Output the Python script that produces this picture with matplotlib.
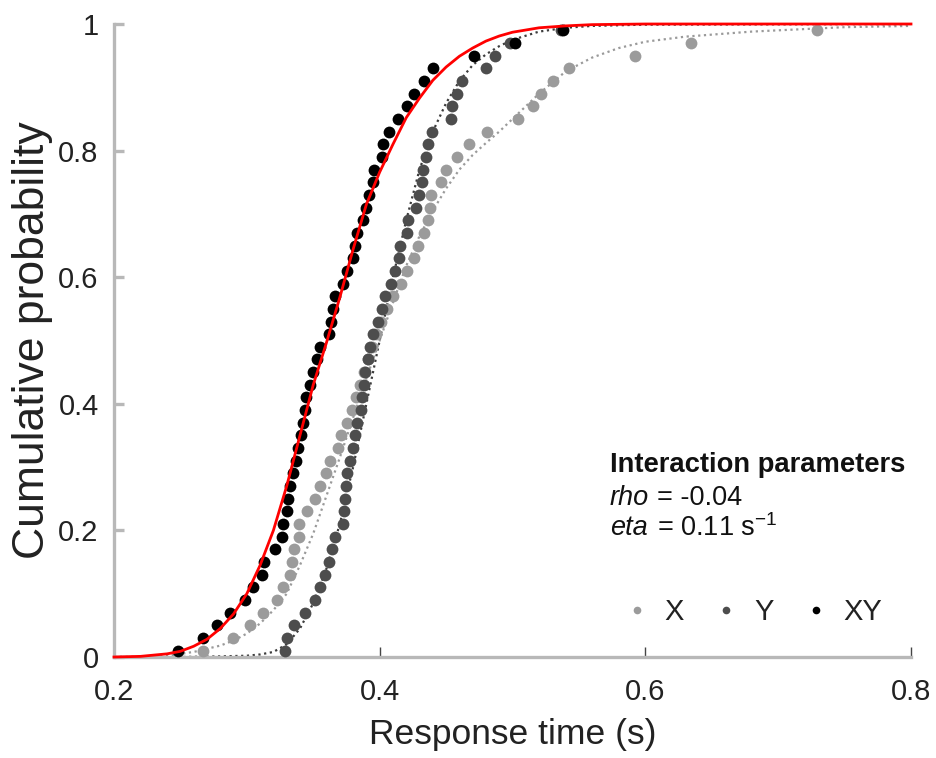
import matplotlib
matplotlib.use("Agg")
import matplotlib.pyplot as plt
from matplotlib.lines import Line2D

plt.rcParams['font.family'] = ['Liberation Sans', 'DejaVu Sans']
plt.rcParams['mathtext.fontset'] = 'custom'
plt.rcParams['mathtext.rm'] = 'Liberation Sans'
plt.rcParams['mathtext.it'] = 'Liberation Sans:italic'

# Cumulative probabilities of the quantile points
probs = [0.01, 0.03, 0.05, 0.07, 0.09, 0.11, 0.13, 0.15, 0.17, 0.19,
         0.21, 0.23, 0.25, 0.27, 0.29, 0.31, 0.33, 0.35, 0.37, 0.39,
         0.41, 0.43, 0.45, 0.47, 0.49, 0.51, 0.53, 0.55, 0.57, 0.59,
         0.61, 0.63, 0.65, 0.67, 0.69, 0.71, 0.73, 0.75, 0.77, 0.79,
         0.81, 0.83, 0.85, 0.87, 0.89, 0.91, 0.93, 0.95, 0.97, 0.99]

# Response times (s) for condition X
rt_x = [0.2670, 0.2898, 0.3026, 0.3124, 0.3225, 0.3275, 0.3322, 0.3338, 0.3352, 0.3392,
        0.3395, 0.3453, 0.3514, 0.3551, 0.3595, 0.3623, 0.3687, 0.3709, 0.3755, 0.3792,
        0.3822, 0.3852, 0.3883, 0.3913, 0.3943, 0.3973, 0.4011, 0.4056, 0.4103, 0.4161,
        0.4204, 0.4255, 0.4291, 0.4331, 0.4361, 0.4380, 0.4383, 0.4460, 0.4500, 0.4581,
        0.4675, 0.4807, 0.5044, 0.5151, 0.5213, 0.5308, 0.5428, 0.5923, 0.6343, 0.7294]

# Response times (s) for condition Y
rt_y = [0.3288, 0.3300, 0.3355, 0.3438, 0.3514, 0.3551, 0.3589, 0.3619, 0.3639, 0.3660,
        0.3724, 0.3730, 0.3739, 0.3743, 0.3755, 0.3777, 0.3800, 0.3815, 0.3830, 0.3860,
        0.3867, 0.3883, 0.3890, 0.3915, 0.3928, 0.3948, 0.3990, 0.4018, 0.4041, 0.4084,
        0.4116, 0.4148, 0.4154, 0.4209, 0.4216, 0.4274, 0.4299, 0.4316, 0.4329, 0.4349,
        0.4367, 0.4392, 0.4538, 0.4547, 0.4585, 0.4618, 0.4801, 0.4869, 0.4982, 0.5366]

# Response times (s) for condition XY
rt_xy = [0.2482, 0.2670, 0.2776, 0.2873, 0.2986, 0.3044, 0.3112, 0.3132, 0.3212, 0.3263,
         0.3275, 0.3300, 0.3312, 0.3325, 0.3350, 0.3370, 0.3388, 0.3406, 0.3421, 0.3438,
         0.3446, 0.3476, 0.3496, 0.3531, 0.3551, 0.3621, 0.3632, 0.3651, 0.3664, 0.3722,
         0.3752, 0.3797, 0.3815, 0.3832, 0.3873, 0.3898, 0.3922, 0.3947, 0.3960, 0.4016,
         0.4023, 0.4073, 0.4141, 0.4209, 0.4259, 0.4334, 0.4398, 0.4711, 0.5020, 0.5381]

# Fitted CDF for X (dotted light gray)
fit_x_t = [0.20, 0.22, 0.24, 0.26, 0.27, 0.28, 0.29, 0.30, 0.31, 0.32, 0.33, 0.34, 0.35,
           0.36, 0.37, 0.38, 0.39, 0.40, 0.41, 0.42, 0.43, 0.44, 0.45, 0.46, 0.47, 0.48,
           0.49, 0.50, 0.52, 0.54, 0.56, 0.58, 0.60, 0.63, 0.68, 0.75, 0.80]
fit_x_p = [0.000, 0.000, 0.002, 0.008, 0.013, 0.018, 0.026, 0.037, 0.053, 0.074, 0.100, 0.145, 0.195,
           0.255, 0.315, 0.378, 0.440, 0.500, 0.560, 0.618, 0.665, 0.705, 0.740, 0.770, 0.793, 0.812,
           0.830, 0.850, 0.890, 0.925, 0.947, 0.962, 0.972, 0.980, 0.988, 0.995, 0.997]

# Fitted CDF for Y (dotted dark gray)
fit_y_t = [0.20, 0.25, 0.28, 0.30, 0.31, 0.32, 0.33, 0.34, 0.35, 0.36, 0.37, 0.38, 0.39, 0.40,
           0.41, 0.42, 0.43, 0.44, 0.45, 0.46, 0.47, 0.48, 0.49, 0.50, 0.52, 0.54, 0.56,
           0.60, 0.80]
fit_y_p = [0.000, 0.000, 0.001, 0.002, 0.004, 0.008, 0.020, 0.045, 0.085, 0.140, 0.210, 0.300, 0.400, 0.500,
           0.600, 0.690, 0.770, 0.830, 0.875, 0.910, 0.935, 0.952, 0.965, 0.975, 0.988, 0.994, 0.997,
           0.999, 1.000]

# Model prediction for XY (red)
pred_xy_t = [0.20, 0.22, 0.24, 0.25, 0.26, 0.27, 0.28, 0.29, 0.30, 0.31, 0.32, 0.33, 0.34,
             0.35, 0.36, 0.37, 0.38, 0.39, 0.40, 0.41, 0.42, 0.43, 0.44, 0.45, 0.46, 0.47,
             0.48, 0.49, 0.50, 0.52, 0.54, 0.56, 0.60, 0.80]
pred_xy_p = [0.000, 0.001, 0.005, 0.009, 0.017, 0.028, 0.045, 0.068, 0.100, 0.145, 0.200, 0.270, 0.350,
             0.430, 0.497, 0.568, 0.644, 0.715, 0.766, 0.810, 0.852, 0.883, 0.911, 0.932, 0.949, 0.962,
             0.973, 0.981, 0.987, 0.994, 0.997, 0.999, 1.000, 1.000]

x_ticks = [0.2, 0.4, 0.6, 0.8]
x_ticklabels = ['0.2', '0.4', '0.6', '0.8']
y_ticks = [0, 0.2, 0.4, 0.6, 0.8, 1]
y_ticklabels = ['0', '0.2', '0.4', '0.6', '0.8', '1']

c_x = '#9b9b9b'
c_y = '#4d4d4d'
c_xy = '#000000'
axis_gray = '#b8b8b8'
text_c = '#222222'

fig = plt.figure(figsize=(9.36, 7.58), dpi=100)
ax = fig.add_axes([114/936, 1 - 657/758, 797/936, 633/758])

ax.plot(fit_x_t, fit_x_p, linestyle=(0, (1, 1.6)), color='#9a9a9a', lw=1.6, zorder=2)
ax.plot(fit_y_t, fit_y_p, linestyle=(0, (1, 1.6)), color='#3c3c3c', lw=1.6, zorder=2)

ms = 8.5
ax.plot(rt_x, probs, 'o', color=c_x, ms=ms, mec='none', zorder=3, clip_on=False)
ax.plot(rt_y, probs, 'o', color=c_y, ms=ms, mec='none', zorder=4, clip_on=False)
ax.plot(rt_xy, probs, 'o', color=c_xy, ms=ms, mec='none', zorder=5, clip_on=False)

ax.plot(pred_xy_t, pred_xy_p, color='#ff0000', lw=2.0, zorder=6, clip_on=False)

ax.set_xlim(0.2, 0.8)
ax.set_ylim(0, 1)
ax.set_xticks(x_ticks)
ax.set_xticklabels(x_ticklabels)
ax.set_yticks(y_ticks)
ax.set_yticklabels(y_ticklabels)

for s in ['top', 'right']:
    ax.spines[s].set_visible(False)
for s in ['left', 'bottom']:
    ax.spines[s].set_color(axis_gray)
    ax.spines[s].set_linewidth(2.4)

ax.tick_params(axis='y', direction='in', length=7, width=2.4, color=axis_gray,
               labelsize=21, labelcolor=text_c, pad=11)
ax.tick_params(axis='x', direction='in', length=7, width=1.0, color='#444444',
               labelsize=21, labelcolor=text_c, pad=15)

ax.set_xlabel('Response time (s)', fontsize=25.5, color=text_c, labelpad=9)
ax.set_ylabel('Cumulative probability', fontsize=32, color=text_c, labelpad=4)

# Interaction parameter annotation
tx = (610 - 114) / 797
tx2 = (657 - 114) / 797
ax.text(tx, (657 - 465) / 633, 'Interaction parameters', transform=ax.transAxes,
        fontsize=19.7, fontweight='bold', color='#111111', va='center', ha='left')
ax.text(tx, (657 - 498) / 633, 'rho', transform=ax.transAxes, fontsize=19.5,
        style='italic', color='#111111', va='center', ha='left')
ax.text(tx2, (657 - 498) / 633, '= -0.04', transform=ax.transAxes, fontsize=19.5,
        color='#111111', va='center', ha='left')
ax.text(tx, (657 - 528) / 633, 'eta', transform=ax.transAxes, fontsize=19.5,
        style='italic', color='#111111', va='center', ha='left')
ax.text(tx2, (657 - 528) / 633, r'= 0.11 s$^{-1}$', transform=ax.transAxes,
        fontsize=19.5, color='#111111', va='center', ha='left')

handles = [Line2D([], [], marker='o', ls='none', color=c_x, ms=5.5, mec='none'),
           Line2D([], [], marker='o', ls='none', color=c_y, ms=5.5, mec='none'),
           Line2D([], [], marker='o', ls='none', color=c_xy, ms=5.5, mec='none')]
ax.legend(handles, ['X', 'Y', 'XY'], ncol=3, frameon=False, fontsize=21,
          loc='center right', bbox_to_anchor=((894 - 114) / 797, (657 - 612) / 633),
          handlelength=1.0, handletextpad=0.45, columnspacing=0.95,
          labelcolor=text_c, borderaxespad=0.0)

fig.savefig('out.png', dpi=100, facecolor='white')
